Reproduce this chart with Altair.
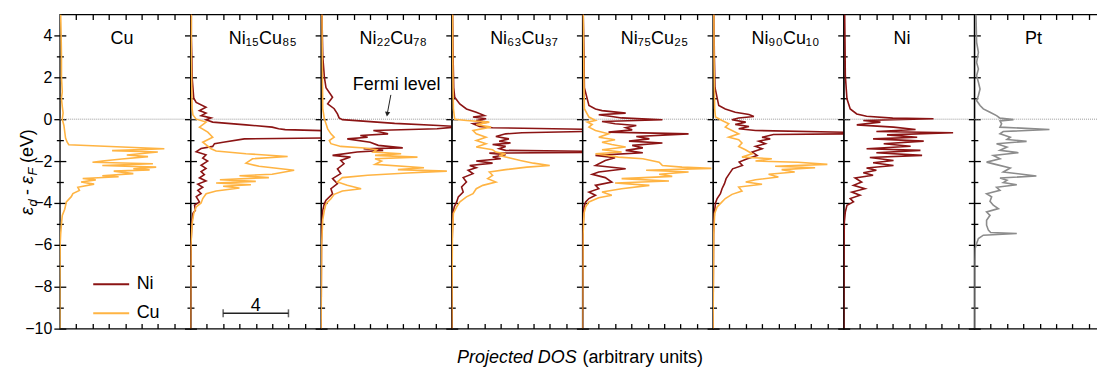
import altair as alt
import pandas as pd

FONT = "Liberation Sans"
NI_COLOR = "#8b1414"
CU_COLOR = "#ffb443"
PT_COLOR = "#8c8c8c"

# ---------------- data (energy E in eV, projected DOS in arbitrary units) ----------------
CU_CU_E = [5, 4, 3, 2, 1.3, 1.0, 0.6, 0.3, 0.0, -0.3, -0.6, -0.9, -1.1, -1.22, -1.41, -1.5, -1.57, -1.71, -1.79, -1.9,
           -2.0, -2.06, -2.13, -2.21, -2.29, -2.37, -2.42, -2.48, -2.6, -2.7, -2.75, -2.83, -2.9, -3.0, -3.1, -3.25,
           -3.4, -3.55, -3.7, -3.95, -4.3, -4.6, -5.0, -5.5, -6.0, -8, -10]
CU_CU_D = [0.05, 0.08, 0.1, 0.1, 0.15, 0.1, 0.15, 0.2, 0.15, 0.25, 0.3, 0.35, 0.45, 0.55, 6.4, 3.2, 6.0, 4.1, 5.4, 3.8,
           2.6, 2.0, 5.7, 2.6, 5.9, 4.5, 5.5, 3.3, 4.5, 2.6, 3.6, 1.4, 2.2, 1.3, 2.1, 1.1,
           1.2, 0.8, 0.7, 0.4, 0.3, 0.15, 0.1, 0.05, 0.02, 0.0, 0.0]

N15_NI_E = [5, 4, 3, 2, 1.5, 1.0, 0.8, 0.57, 0.41, 0.29, 0.17, 0.06, -0.03, -0.14, -0.27, -0.38, -0.46, -0.5, -0.56, -0.7,
            -0.89, -0.94, -1.1, -1.17, -1.3, -1.4, -1.55, -1.7, -1.86, -2.0, -2.2, -2.35, -2.5, -2.65, -2.8, -2.95,
            -3.1, -3.25, -3.4, -3.55, -3.7, -3.95, -4.1, -4.35, -4.5, -5, -6, -10]
N15_NI_D = [0.05, 0.05, 0.08, 0.1, 0.15, 0.2, 0.35, 0.95, 0.55, 0.95, 0.65, 1.26, 0.95, 1.36, 3.4, 5.0, 5.4, 5.8, 8.6, 9.0,
            8.6, 3.3, 2.0, 1.47, 1.36, 0.65, 0.35, 0.95, 0.75, 1.05, 0.65, 0.95, 0.65, 0.85, 0.55, 0.95,
            0.45, 0.75, 0.45, 0.65, 0.35, 0.55, 0.25, 0.3, 0.15, 0.08, 0.03, 0.0]
N15_CU_E = [5, 3, 1.5, 0.5, 0.2, 0.0, -0.14, -0.38, -0.62, -0.86, -1.1, -1.41, -1.52, -1.65, -1.78, -1.89, -2.1, -2.25,
            -2.44, -2.63, -2.7, -2.79, -2.89, -2.97, -3.05, -3.13, -3.2, -3.29, -3.43, -3.56, -3.79, -4.0, -4.19,
            -4.5, -5.0, -6.0, -10]
N15_CU_D = [0.05, 0.05, 0.08, 0.1, 0.15, 0.35, 0.96, 0.55, 1.06, 1.36, 0.75, 1.26, 1.57, 3.4, 5.95, 3.8, 3.4, 4.2,
            6.35, 5.0, 3.0, 4.8, 1.8, 4.0, 1.57, 3.7, 2.0, 3.0, 1.57, 0.96, 0.75, 0.65, 0.35,
            0.2, 0.1, 0.03, 0.0]

N22_NI_E = [5, 3, 2.0, 1.5, 1.05, 0.73, 0.5, 0.25, 0.06, -0.02, -0.2, -0.3, -0.36, -0.46, -0.54, -0.7, -0.78, -0.86,
            -0.94, -1.1, -1.25, -1.37, -1.41, -1.49, -1.57, -1.73, -1.81, -1.97, -2.13, -2.37, -2.6, -2.84, -3.08,
            -3.32, -3.56, -3.87, -4.03, -4.35, -5, -6, -10]
N22_NI_D = [0.05, 0.1, 0.2, 0.3, 0.7, 0.4, 0.8, 1.0, 1.1, 1.3, 4.5, 7.2, 8.4, 7.1, 3.2, 4.1, 2.4, 2.85,
            1.6, 3.0, 3.5, 5.0, 2.6, 3.8, 2.2, 0.7, 1.8, 1.2, 1.4, 1.0, 1.2, 0.7, 1.0,
            0.6, 0.7, 0.3, 0.2, 0.1, 0.05, 0.02, 0.0]
N22_CU_E = [5, 2, 0.5, 0.0, -0.22, -0.46, -0.7, -0.86, -1.02, -1.17, -1.3, -1.38, -1.46, -1.57, -1.65, -1.73, -1.81,
            -1.89, -2.0, -2.16, -2.32, -2.41, -2.48, -2.57, -2.68, -2.79, -3.0, -3.16, -3.32, -3.43, -3.59, -3.8,
            -4.03, -4.35, -4.8, -6, -10]
N22_CU_D = [0.05, 0.08, 0.1, 0.2, 0.3, 0.4, 0.6, 0.8, 0.5, 0.6, 1.2, 2.65, 3.4, 3.2, 4.9, 3.3, 5.9,
            3.3, 3.7, 3.3, 6.3, 4.7, 7.7, 5.3, 2.85, 1.3, 1.0, 1.6, 2.45, 1.3, 0.8, 0.6,
            0.3, 0.2, 0.1, 0.03, 0.0]

N63_NI_E = [5, 3, 1.5, 1.05, 0.73, 0.49, 0.33, 0.17, 0.1, 0.02, -0.06, -0.14, -0.22, -0.35, -0.41, -0.49, -0.58,
            -0.65, -0.7, -0.83, -0.94, -1.05, -1.14, -1.21, -1.3, -1.41, -1.49, -1.54, -1.58, -1.62, -1.7, -1.81,
            -1.89, -2.0, -2.1, -2.21, -2.32, -2.44, -2.6, -2.79, -3.0, -3.24, -3.48, -3.71, -3.95, -4.19, -4.5,
            -5, -6, -10]
N63_NI_D = [0.05, 0.08, 0.12, 0.18, 0.49, 0.9, 1.5, 2.0, 1.3, 2.1, 1.5, 2.2, 1.3, 1.7, 2.5, 8.6, 8.6,
            4.3, 3.3, 2.7, 3.5, 2.9, 3.6, 2.5, 3.3, 2.9, 3.3, 8.6, 8.6, 2.3, 3.3, 2.5,
            3.0, 1.5, 2.5, 1.1, 1.5, 1.0, 1.3, 0.7, 0.9, 0.6, 0.7, 0.4, 0.3, 0.15, 0.08,
            0.05, 0.02, 0.0]
N63_CU_E = [5, 3, 1.5, 0.5, 0.0, -0.06, -0.14, -0.25, -0.38, -0.54, -0.7, -0.86, -1.02, -1.17, -1.33, -1.46, -1.57,
            -1.65, -1.73, -1.84, -1.97, -2.1, -2.21, -2.29, -2.41, -2.52, -2.68, -2.84, -3.0, -3.16, -3.32, -3.56,
            -3.71, -3.95, -4.19, -4.5, -5.5, -10]
N63_CU_D = [0.05, 0.06, 0.08, 0.1, 0.18, 0.9, 2.3, 1.5, 2.4, 1.3, 1.5, 2.1, 1.5, 2.1, 1.5, 2.5, 2.7,
            3.3, 2.9, 3.5, 4.2, 5.0, 6.0, 4.6, 3.3, 2.3, 2.5, 2.2, 2.7, 1.9, 1.5, 1.3,
            0.9, 0.5, 0.3, 0.1, 0.04, 0.0]

N75_NI_E = [5, 3, 1.5, 0.65, 0.49, 0.41, 0.29, 0.21, 0.13, 0.06, -0.03, -0.11, -0.22, -0.3, -0.41, -0.51, -0.62,
            -0.7, -0.83, -0.94, -1.05, -1.14, -1.25, -1.37, -1.49, -1.6, -1.73, -1.84, -1.97, -2.21, -2.37, -2.52,
            -2.63, -2.79, -3.0, -3.16, -3.32, -3.48, -3.63, -3.79, -3.95, -4.19, -5, -6, -10]
N75_NI_D = [0.05, 0.1, 0.12, 0.4, 0.8, 1.2, 2.65, 1.0, 1.8, 2.4, 4.9, 1.2, 2.0, 3.3, 2.65, 3.05, 1.6,
            6.5, 3.3, 4.1, 2.85, 4.9, 3.05, 3.7, 2.65, 3.7, 0.8, 2.0, 1.4, 0.8, 2.65, 1.0,
            0.6, 1.4, 1.8, 0.8, 1.0, 0.4, 0.8, 0.4, 0.2, 0.1, 0.05, 0.02, 0.0]
N75_CU_E = [5, 3, 1.5, 0.5, 0.1, -0.06, -0.14, -0.25, -0.38, -0.54, -0.7, -0.86, -0.98, -1.1, -1.21, -1.33, -1.46,
            -1.57, -1.65, -1.81, -1.89, -2.05, -2.21, -2.29, -2.35, -2.44, -2.52, -2.63, -2.73, -2.84, -2.95, -3.05,
            -3.16, -3.32, -3.48, -3.63, -3.75, -3.95, -4.19, -4.5, -5.5, -10]
N75_CU_D = [0.05, 0.08, 0.1, 0.12, 0.4, 0.8, 0.3, 0.6, 0.4, 0.8, 1.6, 1.0, 2.0, 1.2, 1.8, 2.65, 1.2,
            2.4, 0.8, 2.2, 3.7, 4.7, 4.9, 6.1, 7.9, 3.9, 6.5, 4.7, 5.5, 2.4, 5.3, 2.0,
            4.1, 2.4, 1.2, 1.8, 1.0, 0.4, 0.2, 0.1, 0.04, 0.0]

N90_NI_E = [5, 3, 1.5, 0.65, 0.49, 0.33, 0.22, 0.13, 0.06, -0.03, -0.14, -0.25, -0.35, -0.46, -0.54, -0.63, -0.7,
            -0.73, -0.86, -0.94, -1.05, -1.17, -1.3, -1.41, -1.57, -1.73, -1.89, -2.05, -2.21, -2.37, -2.6, -2.84,
            -3.08, -3.32, -3.56, -3.79, -4.0, -4.5, -5.5, -10]
N90_NI_D = [0.05, 0.08, 0.12, 0.35, 0.75, 1.36, 2.2, 2.5, 1.57, 1.16, 2.0, 1.36, 2.2, 1.57, 2.6, 8.6, 8.6,
            3.7, 3.0, 3.5, 2.8, 3.2, 2.6, 3.0, 2.4, 2.7, 2.1, 1.6, 1.8, 1.2, 1.0, 0.8,
            0.7, 0.55, 0.45, 0.25, 0.15, 0.08, 0.03, 0.0]
N90_CU_E = [5, 3, 1.5, 0.5, 0.1, -0.06, -0.22, -0.38, -0.54, -0.7, -0.86, -0.98, -1.14, -1.3, -1.46, -1.65, -1.81,
            -1.89, -2.0, -2.06, -2.16, -2.25, -2.32, -2.41, -2.52, -2.63, -2.76, -2.89, -3.0, -3.11, -3.24, -3.43,
            -3.59, -3.79, -3.95, -4.19, -4.5, -5.5, -10]
N90_CU_D = [0.05, 0.06, 0.08, 0.1, 0.15, 0.55, 0.96, 0.75, 1.16, 1.57, 0.96, 1.57, 1.77, 1.57, 1.98, 2.4, 1.77,
            3.6, 2.6, 5.2, 7.0, 3.8, 6.25, 4.2, 5.0, 3.4, 4.0, 2.6, 2.0, 3.0, 1.57, 1.77,
            1.16, 0.75, 0.55, 0.25, 0.1, 0.04, 0.0]

NI_NI_E = [5, 3.67, 2.08, 0.97, 0.49, 0.25, 0.14, 0.05, 0.02, -0.06, -0.14, -0.27, -0.38, -0.49, -0.59, -0.65, -0.75,
           -0.86, -0.94, -1.05, -1.17, -1.29, -1.41, -1.49, -1.6, -1.73, -1.83, -1.97, -2.08, -2.21, -2.33, -2.44,
           -2.56, -2.68, -2.81, -3.0, -3.16, -3.32, -3.48, -3.63, -3.79, -3.95, -4.11, -4.43, -4.9, -6, -10]
NI_NI_D = [0.06, 0.08, 0.1, 0.2, 0.4, 0.8, 1.4, 3.0, 5.5, 1.2, 2.25, 0.8, 3.05, 4.4, 2.0, 6.7, 2.65,
           4.5, 1.8, 4.9, 2.45, 4.1, 1.4, 4.7, 2.0, 4.8, 1.6, 3.05, 1.8, 3.05, 1.4, 2.0,
           1.2, 1.8, 0.7, 1.1, 0.6, 1.3, 0.5, 1.0, 0.4, 0.6, 0.2, 0.1, 0.04, 0.02, 0.0]

PT_E = [5, 3.67, 3.19, 2.71, 2.4, 2.08, 1.76, 1.44, 1.13, 0.89, 0.65, 0.49, 0.33, 0.17, 0.05, -0.02, -0.08, -0.22,
        -0.38, -0.49, -0.59, -0.7, -0.86, -0.97, -1.06, -1.17, -1.33, -1.49, -1.6, -1.73, -1.89, -2.05, -2.17, -2.33,
        -2.52, -2.71, -2.81, -2.92, -3.03, -3.13, -3.25, -3.4, -3.56, -3.71, -3.92, -4.11, -4.27, -4.43, -4.59,
        -4.83, -5.06, -5.3, -5.41, -5.46, -5.54, -5.7, -5.94, -6.17, -7, -10]
PT_D = [0.1, 0.14, 0.25, 0.14, 0.25, 0.14, 0.25, 0.35, 0.25, 0.14, 0.35, 0.55, 0.96, 1.36, 1.57, 2.4, 1.57, 1.67,
        1.57, 4.6, 1.77, 1.57, 2.2, 2.0, 3.2, 1.36, 2.0, 1.57, 2.7, 1.16, 1.57, 0.75, 1.36, 2.2,
        1.77, 3.8, 1.57, 2.0, 1.77, 2.6, 1.36, 1.57, 0.75, 1.06, 0.96, 1.16, 1.47, 0.75, 0.96,
        0.75, 0.75, 0.86, 1.0, 2.6, 0.55, 0.25, 0.14, 0.05, 0.02, 0.0]

PANEL_TITLES = ["Cu", "Ni₁₅Cu₈₅", "Ni₂₂Cu₇₈", "Ni₆₃Cu₃₇", "Ni₇₅Cu₂₅", "Ni₉₀Cu₁₀", "Ni", "Pt"]
TITLE_X = [3.1, 2.35, 2.35, 2.35, 2.35, 2.35, 3.05, 3.1]
TITLE_E = 3.57

PANEL_CURVES = [
    [("Cu", CU_CU_E, CU_CU_D)],
    [("Ni", N15_NI_E, N15_NI_D), ("Cu", N15_CU_E, N15_CU_D)],
    [("Ni", N22_NI_E, N22_NI_D), ("Cu", N22_CU_E, N22_CU_D)],
    [("Ni", N63_NI_E, N63_NI_D), ("Cu", N63_CU_E, N63_CU_D)],
    [("Ni", N75_NI_E, N75_NI_D), ("Cu", N75_CU_E, N75_CU_D)],
    [("Ni", N90_NI_E, N90_NI_D), ("Cu", N90_CU_E, N90_CU_D)],
    [("Ni", NI_NI_E, NI_NI_D)],
    [("Pt", PT_E, PT_D)],
]

FERMI_E = 0.0
Y_MAJOR = [-10, -8, -6, -4, -2, 0, 2, 4]
Y_MINOR = [-9, -7, -5, -3, -1, 1, 3]
X_TICKS = [1, 2, 3, 4, 5, 6, 7]

SCALE_BAR_X = [2, 6]
SCALE_BAR_E = -9.27
SCALE_BAR_LABEL = "4"

FERMI_LABEL = "Fermi level"
FERMI_LABEL_POS = (4.63, 1.38)
FERMI_ARROW = (4.27, 1.16, 4.06, 0.3)
FERMI_HEAD = (4.05, 0.24)

XTITLE_ITALIC = "Projected DOS"
XTITLE_NORMAL = "(arbitrary units)"
XTITLE_POS = (7.65, 8.0, -11.62)

# rotated y-axis title pieces: text, font size, style, offset along the text, subscript drop
YTITLE_PIECES = [("ε", 18, "italic", 0, 0), ("d", 13, "italic", 8.5, 4), ("-", 18, "normal", 20, 0),
                 ("ε", 18, "italic", 31, 0), ("F", 13, "italic", 39.5, 4), ("(eV)", 18, "normal", 52, 0)]

W, H = 131, 315
xs = alt.Scale(domain=[0, 8], nice=False, zero=False)
ys = alt.Scale(domain=[-10, 5], nice=False, zero=False)
cs = alt.Scale(domain=["Ni", "Cu", "Pt"], range=[NI_COLOR, CU_COLOR, PT_COLOR])

LEGEND = alt.Legend(orient="none", legendX=32, legendY=251, values=["Ni", "Cu"], title=None,
                    symbolType="stroke", symbolSize=1300, symbolStrokeWidth=2, labelFontSize=18,
                    labelFont=FONT, labelOffset=6, rowPadding=-20, padding=0)


def bottom_axis():
    return alt.Axis(orient="bottom", values=X_TICKS, offset=-5, tickSize=5, labels=False, domain=False,
                    grid=False, title=None)


def top_axis():
    return alt.Axis(orient="top", values=X_TICKS, offset=-5, tickSize=5, labels=False, domain=False,
                    grid=False, title=None)


def major_axis(show_labels):
    return alt.Axis(orient="left", values=Y_MAJOR, offset=-6, tickSize=12, labels=show_labels, domain=False,
                    grid=False, title=None, labelFontSize=16, labelFont=FONT, labelPadding=2,
                    labelColor="black")


def minor_axis():
    return alt.Axis(orient="left", values=Y_MINOR, offset=-3.5, tickSize=7, labels=False, domain=False,
                    grid=False, title=None)


def make_panel(i):
    layers = []
    zero = alt.Chart(pd.DataFrame({"E": [FERMI_E]})).mark_rule(
        color="#9a9a9a", strokeWidth=1, strokeDash=[1, 1]).encode(
        y=alt.Y("E:Q", scale=ys, axis=minor_axis()))
    layers.append(zero)
    for k, (name, E, D) in enumerate(PANEL_CURVES[i]):
        assert len(E) == len(D)
        df = pd.DataFrame({"E": E, "DOS": D, "series": name, "k": list(range(len(E)))})
        line = alt.Chart(df).mark_line(strokeWidth=1.6, clip=True).encode(
            x=alt.X("DOS:Q", scale=xs, axis=bottom_axis() if k == 0 else None),
            y=alt.Y("E:Q", scale=ys, axis=major_axis(i == 0) if k == 0 else None),
            color=alt.Color("series:N", scale=cs, legend=LEGEND),
            order="k:Q")
        layers.append(line)
    tdf = pd.DataFrame({"x": [TITLE_X[i]], "E": [TITLE_E], "t": [PANEL_TITLES[i]]})
    title = alt.Chart(tdf).mark_text(align="left", baseline="alphabetic", fontSize=18, font=FONT,
                                     color="black").encode(
        x=alt.X("x:Q", scale=xs, axis=top_axis()), y=alt.Y("E:Q", scale=ys, axis=None), text="t:N")
    layers.append(title)

    if i == 0:
        for txt, size, style, dx, dy in YTITLE_PIECES:
            layers.append(alt.Chart(pd.DataFrame({"t": [txt]})).mark_text(
                angle=270, align="left", baseline="alphabetic", fontSize=size, fontStyle=style, font=FONT,
                color="black", dx=dx, dy=dy).encode(x=alt.value(-27), y=alt.value(201), text="t:N"))
    if i == 1:
        bar = pd.DataFrame({"x": [SCALE_BAR_X[0]], "x2": [SCALE_BAR_X[1]], "E": [SCALE_BAR_E]})
        layers.append(alt.Chart(bar).mark_rule(color="#222", strokeWidth=1.5).encode(
            x=alt.X("x:Q", scale=xs, axis=None), x2="x2:Q", y=alt.Y("E:Q", scale=ys, axis=None)))
        caps = pd.DataFrame({"x": SCALE_BAR_X, "E": [SCALE_BAR_E] * 2})
        layers.append(alt.Chart(caps).mark_tick(orient="vertical", size=8, thickness=1.5, color="#222").encode(
            x=alt.X("x:Q", scale=xs, axis=None), y=alt.Y("E:Q", scale=ys, axis=None)))
        lab = pd.DataFrame({"x": [sum(SCALE_BAR_X) / 2], "E": [SCALE_BAR_E + 0.13], "t": [SCALE_BAR_LABEL]})
        layers.append(alt.Chart(lab).mark_text(fontSize=18, font=FONT, baseline="alphabetic", color="black").encode(
            x=alt.X("x:Q", scale=xs, axis=None), y=alt.Y("E:Q", scale=ys, axis=None), text="t:N"))
    if i == 2:
        lab = pd.DataFrame({"x": [FERMI_LABEL_POS[0]], "E": [FERMI_LABEL_POS[1]], "t": [FERMI_LABEL]})
        layers.append(alt.Chart(lab).mark_text(fontSize=18, font=FONT, baseline="alphabetic", color="black").encode(
            x=alt.X("x:Q", scale=xs, axis=None), y=alt.Y("E:Q", scale=ys, axis=None), text="t:N"))
        arr = pd.DataFrame({"x": [FERMI_ARROW[0]], "E": [FERMI_ARROW[1]], "x2": [FERMI_ARROW[2]],
                            "E2": [FERMI_ARROW[3]]})
        layers.append(alt.Chart(arr).mark_rule(color="#222", strokeWidth=1).encode(
            x=alt.X("x:Q", scale=xs, axis=None), y=alt.Y("E:Q", scale=ys, axis=None), x2="x2:Q", y2="E2:Q"))
        head = pd.DataFrame({"x": [FERMI_HEAD[0]], "E": [FERMI_HEAD[1]]})
        layers.append(alt.Chart(head).mark_point(shape="triangle-down", filled=True, size=28, angle=10,
                                                 color="#222", opacity=1).encode(
            x=alt.X("x:Q", scale=xs, axis=None), y=alt.Y("E:Q", scale=ys, axis=None)))
    if i == 3:
        t1 = pd.DataFrame({"x": [XTITLE_POS[0]], "E": [XTITLE_POS[2]], "t": [XTITLE_ITALIC]})
        layers.append(alt.Chart(t1).mark_text(fontSize=18, font=FONT, fontStyle="italic", align="right",
                                              baseline="alphabetic", color="black").encode(
            x=alt.X("x:Q", scale=xs, axis=None), y=alt.Y("E:Q", scale=ys, axis=None), text="t:N"))
        t2 = pd.DataFrame({"x": [XTITLE_POS[1]], "E": [XTITLE_POS[2]], "t": [XTITLE_NORMAL]})
        layers.append(alt.Chart(t2).mark_text(fontSize=18, font=FONT, align="left",
                                              baseline="alphabetic", color="black").encode(
            x=alt.X("x:Q", scale=xs, axis=None), y=alt.Y("E:Q", scale=ys, axis=None), text="t:N"))

    return alt.layer(*layers).resolve_axis(x="independent", y="independent").properties(width=W, height=H)


panels = [make_panel(i) for i in range(len(PANEL_TITLES))]

chart = alt.hconcat(*panels, spacing=0, bounds="flush").properties(
    padding={"left": 18, "top": 12, "right": -10, "bottom": 0}
).configure(font=FONT).configure_view(
    stroke="black", strokeWidth=1.3
).configure_axis(
    tickColor="black", tickWidth=1.3, labelFont=FONT
)

chart.save("out.html", embed_options={"renderer": "svg", "actions": False})
